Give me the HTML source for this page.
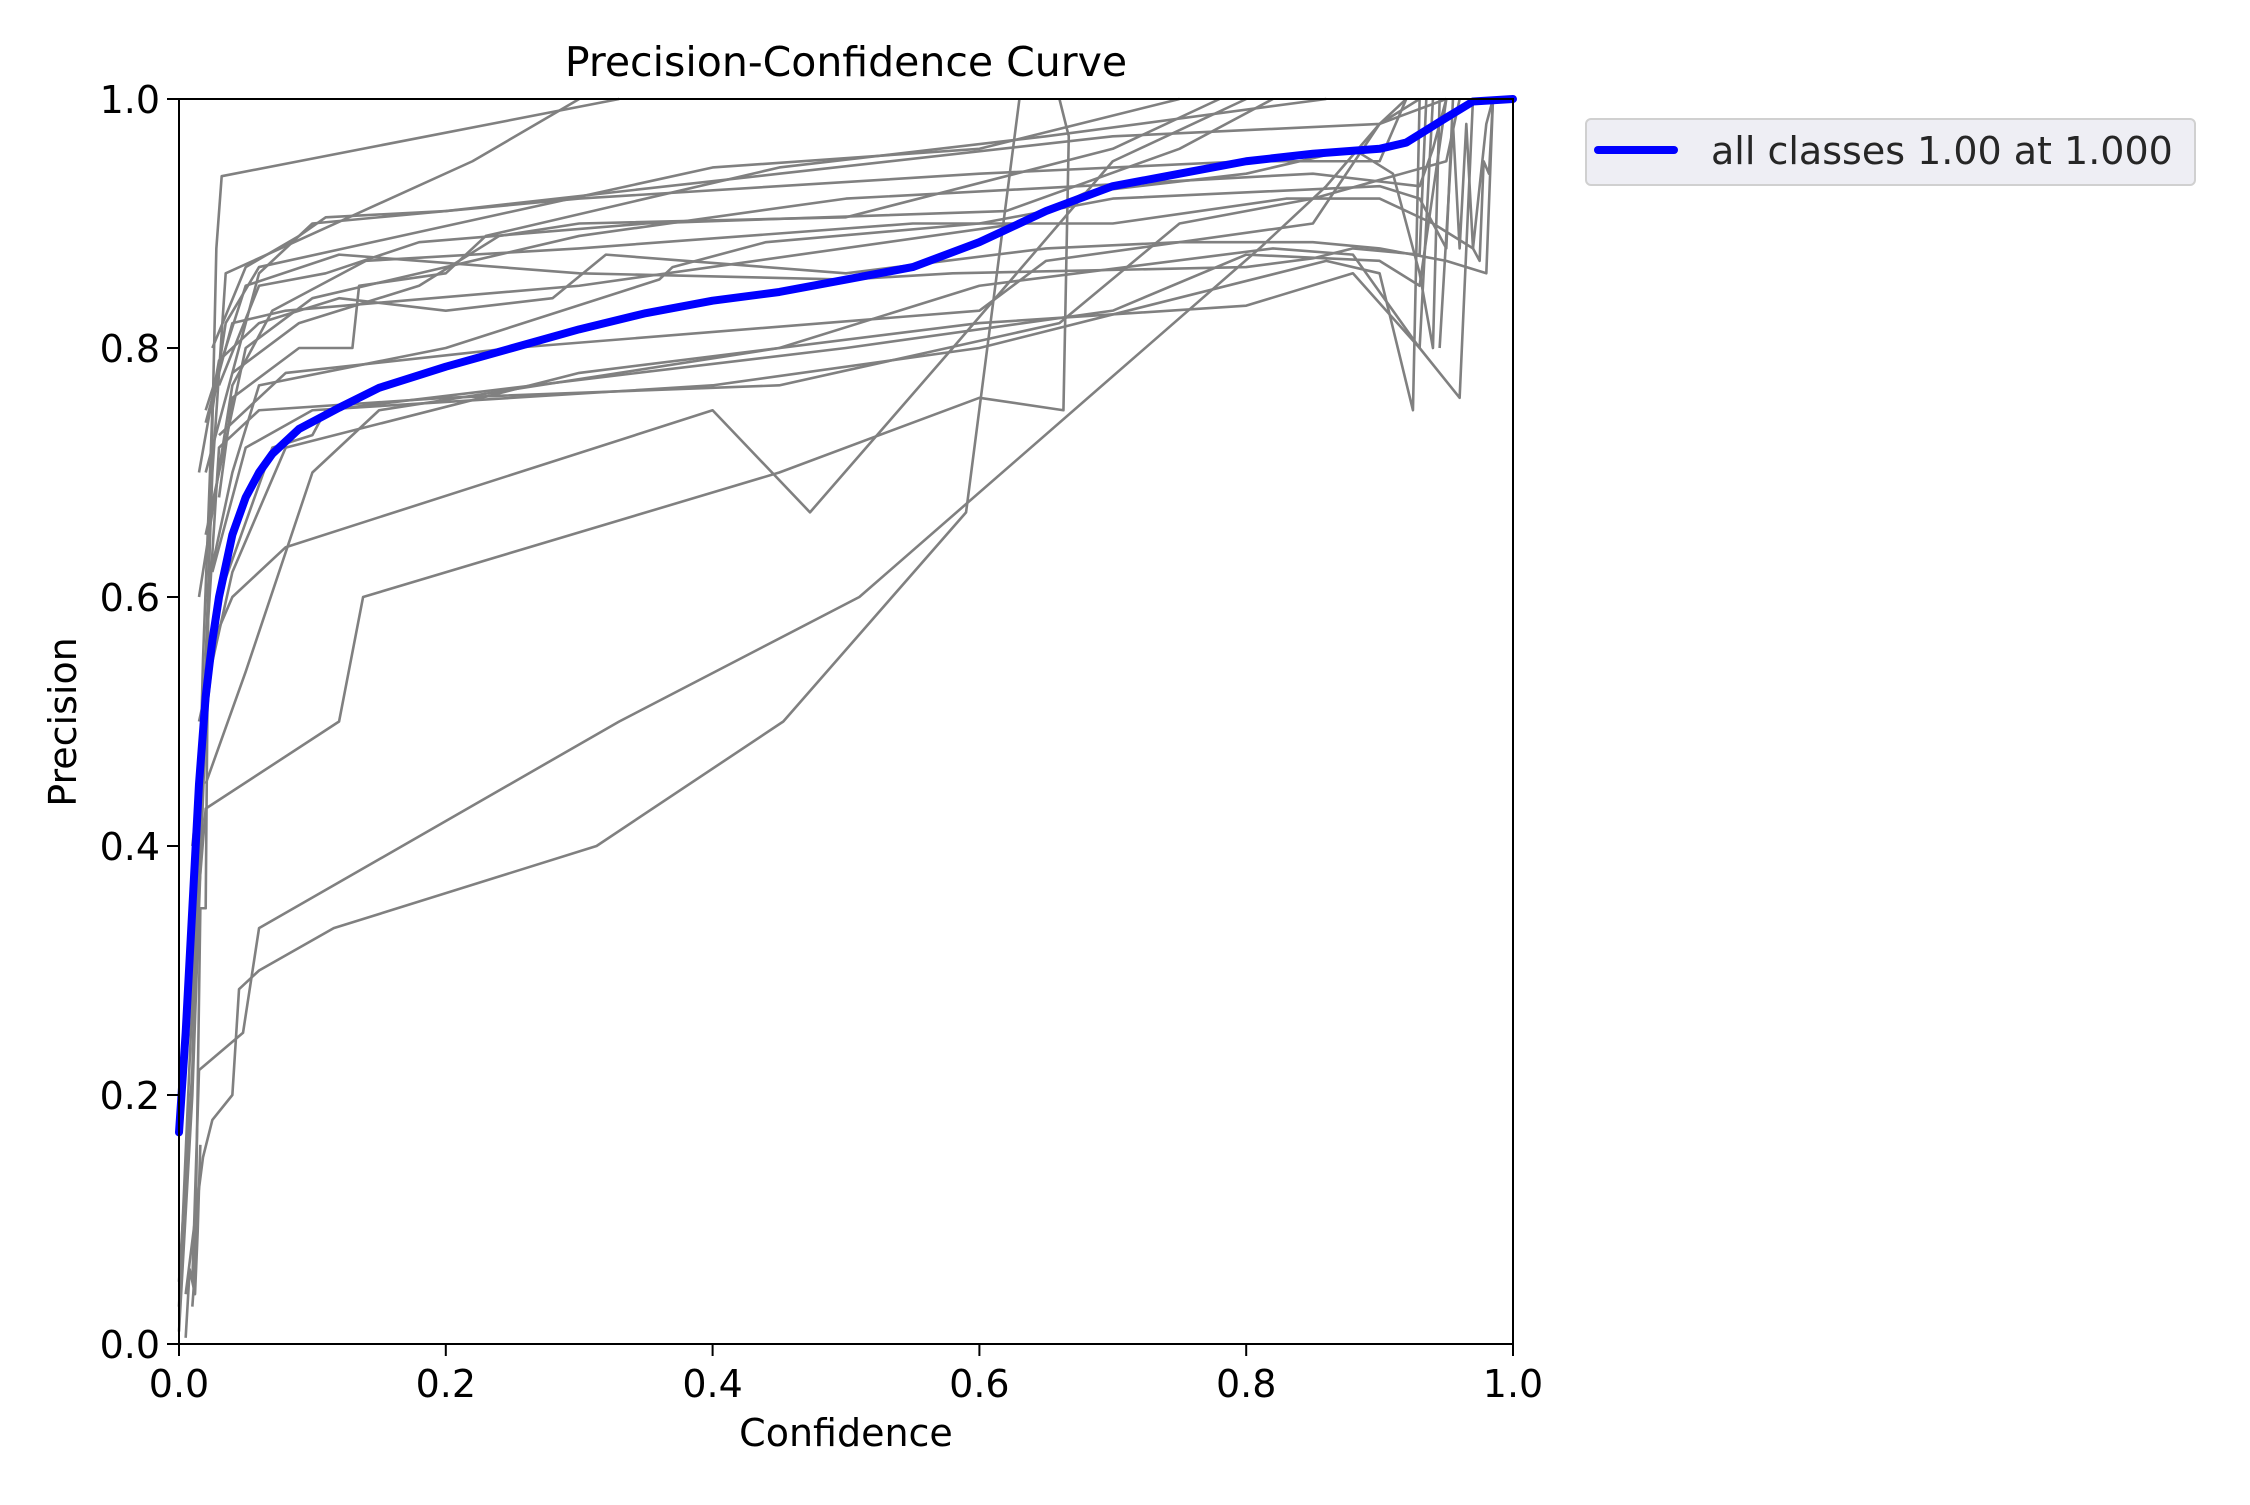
<!DOCTYPE html>
<html><head><meta charset="utf-8"><style>
html,body{margin:0;padding:0;background:#fff;}
svg text{font-family:"DejaVu Sans","Liberation Sans",sans-serif;fill:#000;}
</style></head><body>
<svg width="2250" height="1500" viewBox="0 0 2250 1500" xmlns="http://www.w3.org/2000/svg">
<rect width="2250" height="1500" fill="#fff"/>
<g transform="translate(179,1344) scale(1334,-1245)" fill="none" stroke="#808080" stroke-width="2.6" stroke-linejoin="round">
<polyline vector-effect="non-scaling-stroke" points="0,0.01 0.01,0.2 0.02,0.5 0.028,0.88 0.032,0.938 0.33,1"/>
<polyline vector-effect="non-scaling-stroke" points="0,0.03 0.015,0.4 0.025,0.7 0.035,0.86 0.22,0.95 0.3,1"/>
<polyline vector-effect="non-scaling-stroke" points="0,0.05 0.01,0.22 0.018,0.55 0.025,0.75 0.035,0.82 0.06,0.865 0.4,0.945 0.6,0.96 0.75,1"/>
<polyline vector-effect="non-scaling-stroke" points="0.005,0.04 0.012,0.1 0.018,0.15 0.025,0.18 0.04,0.2 0.045,0.285 0.06,0.3 0.116,0.334 0.313,0.4 0.453,0.5 0.59,0.668 0.63,1"/>
<polyline vector-effect="non-scaling-stroke" points="0.01,0.05 0.015,0.22 0.048,0.25 0.06,0.334 0.33,0.5 0.51,0.6 0.81,0.88 0.86,0.93 0.9,0.98 0.92,1"/>
<polyline vector-effect="non-scaling-stroke" points="0.01,0.3 0.02,0.43 0.12,0.5 0.138,0.6 0.45,0.7 0.6,0.76 0.663,0.75 0.667,0.97 0.66,1"/>
<polyline vector-effect="non-scaling-stroke" points="0.02,0.55 0.04,0.6 0.08,0.64 0.4,0.75 0.473,0.668 0.58,0.8 0.62,0.85 0.7,0.95 0.8,1"/>
<polyline vector-effect="non-scaling-stroke" points="0.02,0.45 0.05,0.54 0.1,0.7 0.15,0.75 0.45,0.8 0.6,0.85 0.82,0.88 0.88,0.875 0.93,0.8 0.96,0.76 0.97,1"/>
<polyline vector-effect="non-scaling-stroke" points="0.015,0.5 0.04,0.62 0.08,0.72 0.3,0.78 0.6,0.82 0.8,0.834 0.88,0.86 0.93,0.8 0.94,1"/>
<polyline vector-effect="non-scaling-stroke" points="0.01,0.4 0.03,0.6 0.07,0.72 0.1,0.73 0.11,0.75 0.5,0.8 0.7,0.83 0.8,0.875 0.9,0.87 0.93,0.85 0.95,1"/>
<polyline vector-effect="non-scaling-stroke" points="0.02,0.6 0.04,0.7 0.06,0.77 0.2,0.8 0.36,0.855 0.37,0.865 0.44,0.885 0.6,0.9 0.7,0.92 0.9,0.93 0.93,0.92 0.95,0.88 0.955,1"/>
<polyline vector-effect="non-scaling-stroke" points="0.02,0.65 0.05,0.8 0.1,0.84 0.3,0.89 0.5,0.92 0.85,0.94 0.93,0.93 0.94,0.96 0.95,1"/>
<polyline vector-effect="non-scaling-stroke" points="0.02,0.7 0.06,0.86 0.1,0.9 0.3,0.92 0.6,0.94 0.8,0.95 0.9,0.95 0.92,1"/>
<polyline vector-effect="non-scaling-stroke" points="0.015,0.6 0.04,0.77 0.07,0.83 0.14,0.87 0.3,0.88 0.55,0.9 0.7,0.9 0.83,0.92 0.9,0.92 0.94,0.9 0.97,0.88 0.98,0.98 0.985,1"/>
<polyline vector-effect="non-scaling-stroke" points="0.02,0.75 0.05,0.85 0.12,0.875 0.3,0.86 0.5,0.855 0.58,0.86 0.8,0.865 0.85,0.872 0.88,0.88 0.93,0.875 0.935,1"/>
<polyline vector-effect="non-scaling-stroke" points="0.015,0.7 0.03,0.79 0.06,0.82 0.12,0.84 0.2,0.83 0.28,0.84 0.32,0.875 0.5,0.86 0.65,0.88 0.75,0.885 0.85,0.885 0.9,0.88 0.95,0.87 0.98,0.86 0.985,1"/>
<polyline vector-effect="non-scaling-stroke" points="0.025,0.8 0.05,0.865 0.09,0.89 0.11,0.905 0.2,0.91 0.45,0.94 0.7,0.97 0.9,0.98 0.95,1"/>
<polyline vector-effect="non-scaling-stroke" points="0.02,0.74 0.04,0.82 0.08,0.83 0.3,0.85 0.63,0.9 0.68,0.925 0.8,0.94 0.88,0.96 0.91,0.94 0.93,0.86 0.94,0.8 0.945,1"/>
<polyline vector-effect="non-scaling-stroke" points="0.03,0.73 0.08,0.78 0.25,0.8 0.6,0.83 0.65,0.87 0.85,0.9 0.9,0.98 0.93,1"/>
<polyline vector-effect="non-scaling-stroke" points="0.025,0.62 0.05,0.72 0.1,0.75 0.4,0.77 0.6,0.8 0.86,0.87 0.9,0.86 0.925,0.75 0.93,1"/>
<polyline vector-effect="non-scaling-stroke" points="0.02,0.55 0.03,0.72 0.06,0.75 0.2,0.76 0.45,0.77 0.66,0.82 0.75,0.9 0.85,0.92 0.95,0.95 0.96,1"/>
<polyline vector-effect="non-scaling-stroke" points="0.03,0.77 0.06,0.85 0.11,0.86 0.18,0.885 0.35,0.9 0.62,0.91 0.75,0.96 0.82,1"/>
<polyline vector-effect="non-scaling-stroke" points="0.04,0.78 0.09,0.82 0.18,0.85 0.24,0.89 0.3,0.9 0.5,0.905 0.7,0.96 0.78,1"/>
<polyline vector-effect="non-scaling-stroke" points="0.03,0.68 0.04,0.76 0.09,0.8 0.13,0.8 0.135,0.85 0.2,0.86 0.23,0.89 0.45,0.945 0.65,0.97 0.86,1"/>
<polyline vector-effect="non-scaling-stroke" points="0.945,0.8 0.955,0.98 0.96,0.88 0.965,0.98 0.97,0.88 0.975,0.87 0.978,0.95 0.982,0.94 0.985,1"/>
<polyline vector-effect="non-scaling-stroke" points="0.01,0.03 0.012,0.06 0.016,0.35 0.02,0.35 0.022,0.6"/>
<polyline vector-effect="non-scaling-stroke" points="0.005,0.005 0.008,0.06 0.012,0.04 0.014,0.09 0.016,0.16"/>
</g>
<polyline fill="none" stroke="#0000ff" stroke-width="8" stroke-linejoin="round" stroke-linecap="round"
 transform="translate(179,1344) scale(1334,-1245)" vector-effect="non-scaling-stroke"
 points="0,0.17 0.005,0.25 0.01,0.35 0.015,0.45 0.02,0.52 0.025,0.565 0.03,0.6 0.04,0.65 0.05,0.68 0.06,0.7 0.07,0.715 0.09,0.735 0.12,0.752 0.15,0.768 0.2,0.785 0.25,0.8 0.3,0.815 0.35,0.828 0.4,0.838 0.45,0.845 0.5,0.855 0.55,0.865 0.6,0.885 0.65,0.91 0.7,0.93 0.75,0.94 0.8,0.95 0.85,0.956 0.9,0.96 0.92,0.965 0.95,0.985 0.97,0.998 1,1"/>
<rect x="179" y="99" width="1334" height="1245" fill="none" stroke="#000" stroke-width="2"/>
<g stroke="#000" stroke-width="2">
<line x1="179" y1="1344" x2="179" y2="1356"/><line x1="445.8" y1="1344" x2="445.8" y2="1356"/><line x1="712.6" y1="1344" x2="712.6" y2="1356"/><line x1="979.4" y1="1344" x2="979.4" y2="1356"/><line x1="1246.2" y1="1344" x2="1246.2" y2="1356"/><line x1="1513" y1="1344" x2="1513" y2="1356"/>
<line x1="167" y1="1344" x2="179" y2="1344"/><line x1="167" y1="1095" x2="179" y2="1095"/><line x1="167" y1="846" x2="179" y2="846"/><line x1="167" y1="597" x2="179" y2="597"/><line x1="167" y1="348" x2="179" y2="348"/><line x1="167" y1="99" x2="179" y2="99"/>
</g>
<g font-size="38" text-anchor="middle">
<text x="179" y="1397">0.0</text><text x="445.8" y="1397">0.2</text><text x="712.6" y="1397">0.4</text><text x="979.4" y="1397">0.6</text><text x="1246.2" y="1397">0.8</text><text x="1513" y="1397">1.0</text>
</g>
<g font-size="38" text-anchor="end">
<text x="160" y="1358">0.0</text><text x="160" y="1109">0.2</text><text x="160" y="860">0.4</text><text x="160" y="611">0.6</text><text x="160" y="362">0.8</text><text x="160" y="113">1.0</text>
</g>
<text x="846" y="76" font-size="41" text-anchor="middle">Precision-Confidence Curve</text>
<text x="846" y="1446" font-size="38" text-anchor="middle">Confidence</text>
<text transform="translate(76,722) rotate(-90)" font-size="38" text-anchor="middle">Precision</text>
<rect x="1586" y="119" width="609" height="66" rx="5" fill="#eeeef4" stroke="#d0d0d0" stroke-width="2"/>
<line x1="1598" y1="150" x2="1674" y2="150" stroke="#0000ff" stroke-width="8" stroke-linecap="round"/>
<text x="1711" y="164" font-size="38" style="fill:#262626">all classes 1.00 at 1.000</text>
</svg>
</body></html>
